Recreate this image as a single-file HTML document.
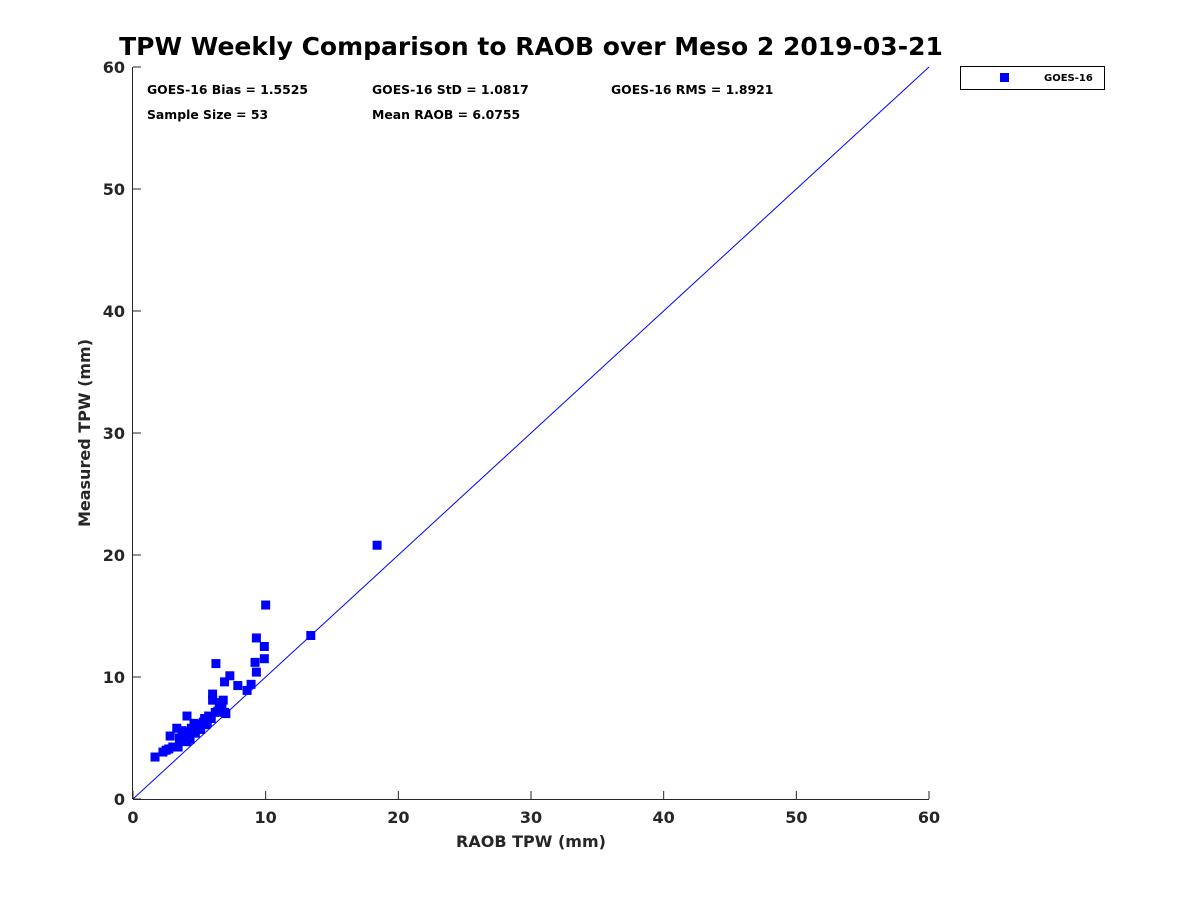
<!DOCTYPE html>
<html><head><meta charset="utf-8"><style>
body{margin:0;background:#fff;font-family:"DejaVu Sans",sans-serif}
</style></head><body>
<svg id="chart" width="1200" height="900" xmlns="http://www.w3.org/2000/svg" font-family="DejaVu Sans, Liberation Sans, sans-serif">
<rect width="1200" height="900" fill="#fff"/>
<text x="531" y="55" text-anchor="middle" font-size="25" font-weight="bold" fill="#000">TPW Weekly Comparison to RAOB over Meso 2 2019-03-21</text>
<g id="axes"></g>
<g id="marks"></g>
<g font-size="12.4" font-weight="bold" fill="#000">
<text x="147" y="94">GOES-16 Bias = 1.5525</text>
<text x="372" y="94">GOES-16 StD = 1.0817</text>
<text x="611" y="94">GOES-16 RMS = 1.8921</text>
<text x="147" y="119">Sample Size = 53</text>
<text x="372" y="119">Mean RAOB = 6.0755</text>
</g>
<g>
<rect x="960.5" y="66.5" width="144" height="23" fill="#fff" stroke="#000" stroke-width="1"/>
<rect x="1000" y="73" width="9" height="9" fill="#0000ff"/>
<text x="1044" y="81" font-size="10" font-weight="bold">GOES-16</text>
</g>
<text x="531" y="847" text-anchor="middle" font-size="16" font-weight="bold" fill="#262626">RAOB TPW (mm)</text>
<text transform="translate(90,433) rotate(-90)" text-anchor="middle" font-size="16" font-weight="bold" fill="#262626">Measured TPW (mm)</text>
</svg>
<script>
const raobValues=[1.66,2.26,2.8,2.7,3.0,3.4,3.3,3.7,3.8,4.07,4.07,4.3,4.4,4.6,4.7,5.0,5.3,5.5,5.7,5.9,6.0,6.0,6.25,6.4,6.6,6.7,6.9,6.8,6.9,7.0,7.3,7.9,8.6,8.9,9.2,9.3,9.3,9.9,9.9,10.0,13.4,18.4,4.8,5.4,5.1,4.3,3.9,5.6,6.5,3.5,4.6,2.5,6.2];
const measuredValues=[3.44,3.85,5.16,4.1,4.26,4.26,5.8,5.6,5.2,6.8,4.7,5.25,5.8,5.7,5.4,6.1,6.3,6.1,6.8,6.6,8.6,8.1,11.1,7.2,7.4,7.8,9.6,8.1,7.1,7.0,10.1,9.3,8.9,9.4,11.2,13.2,10.4,12.5,11.5,15.9,13.4,20.8,5.8,6.6,5.7,4.9,5.5,6.3,7.9,5.0,6.2,4.0,7.1];
const tickValues=[0,10,20,30,40,50,60];
const NS="http://www.w3.org/2000/svg";
const X0=133,X1=929,Y0=799,Y1=67;
const xs=v=>X0+(v-0)/60*(X1-X0);
const ys=v=>Y0-(v-0)/60*(Y0-Y1);
function mk(tag,attrs,parent){const e=document.createElementNS(NS,tag);for(const k in attrs)e.setAttribute(k,attrs[k]);parent.appendChild(e);return e;}
const axes=document.getElementById('axes');
let l=mk('line',{x1:X0,y1:Y0+0.5,x2:X1,y2:Y0+0.5,stroke:'#262626'},axes);


l=mk('line',{x1:X0-0.5,y1:Y0,x2:X0-0.5,y2:Y1,stroke:'#262626'},axes);


tickValues.forEach(t=>{
 let tk=mk('line',{x1:xs(t),y1:Y0,x2:xs(t),y2:Y0-8,stroke:'#262626'},axes);
 
 
 let tx=mk('text',{x:xs(t),y:Y0+24,'text-anchor':'middle','font-size':16,'font-weight':'bold',fill:'#262626'},axes);
 tx.textContent=t;
 
 
 tk=mk('line',{x1:X0,y1:ys(t),x2:X0+8,y2:ys(t),stroke:'#262626'},axes);
 
 
 tx=mk('text',{x:X0-8,y:ys(t)+6,'text-anchor':'end','font-size':16,'font-weight':'bold',fill:'#262626'},axes);
 tx.textContent=t;
 
 
});
const marks=document.getElementById('marks');
const ref=mk('line',{x1:xs(0),y1:ys(0),x2:xs(60),y2:ys(60),stroke:'#0000ff','stroke-width':1},marks);


raobValues.forEach((v,i)=>{
 const r=mk('rect',{x:xs(v)-4.5,y:ys(measuredValues[i])-4.5,width:9,height:9,fill:'#0000ff'},marks);
 
 
});
</script>
</body></html>
